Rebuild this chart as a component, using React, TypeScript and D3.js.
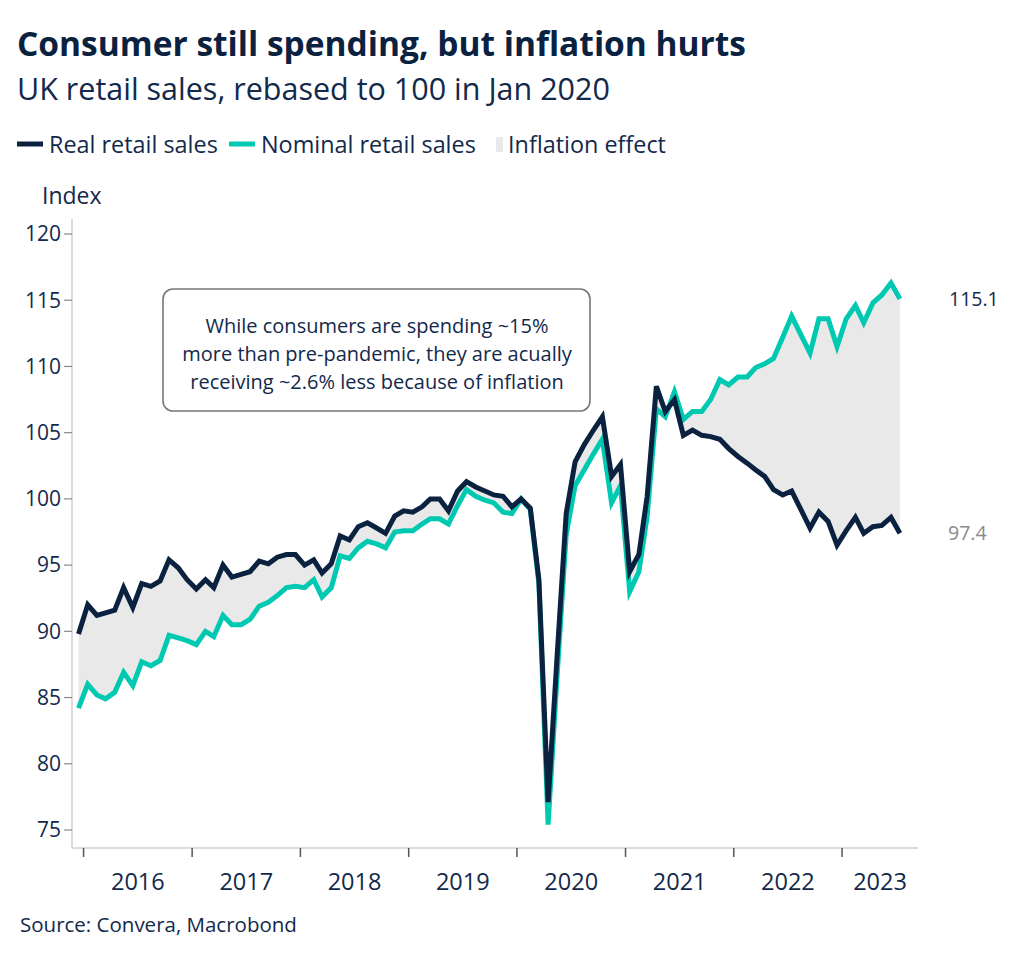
import React from "react";
import * as d3 from "d3";

// Months Dec 2015 .. Jul 2023 (92 points)
const startYear = 2015;
const startMonth = 11; // December (0-based)

const realSales = [
  89.8, 92.0, 91.2, 91.4, 91.6, 93.3, 91.8, 93.6, 93.4, 93.8, 95.4, 94.8, 93.9,
  93.2, 93.9, 93.3, 95.0, 94.1, 94.3, 94.5, 95.3, 95.1, 95.6, 95.8, 95.8, 95.0,
  95.4, 94.4, 95.1, 97.2, 96.9, 97.9, 98.2, 97.8, 97.4, 98.7, 99.1, 99.0, 99.4,
  100.0, 100.0, 99.1, 100.6, 101.3, 100.9, 100.6, 100.3, 100.2, 99.4, 100.0,
  99.3, 93.9, 77.1, 88.0, 98.9, 102.8, 104.1, 105.2, 106.2, 101.7, 102.6, 94.5,
  95.8, 100.2, 108.5, 106.6, 107.5, 104.8, 105.2, 104.8, 104.7, 104.5, 103.8,
  103.2, 102.7, 102.2, 101.7, 100.7, 100.3, 100.6, 99.2, 97.8, 99.0, 98.3, 96.5,
  97.6, 98.6, 97.4, 97.9, 98.0, 98.6, 97.4,
];

const nominalSales = [
  84.2, 86.0, 85.2, 84.9, 85.4, 86.9, 85.9, 87.7, 87.4, 87.8, 89.7, 89.5, 89.3,
  89.0, 90.0, 89.6, 91.2, 90.5, 90.5, 90.9, 91.9, 92.2, 92.7, 93.3, 93.4, 93.3,
  93.9, 92.6, 93.3, 95.7, 95.5, 96.3, 96.8, 96.6, 96.3, 97.5, 97.6, 97.6, 98.1,
  98.5, 98.5, 98.1, 99.5, 100.7, 100.2, 99.9, 99.7, 99.0, 98.9, 100.0, 99.2,
  93.6, 75.4, 86.5, 97.3, 101.0, 102.2, 103.4, 104.5, 99.7, 101.0, 93.0, 94.5,
  98.7, 106.8, 106.2, 108.1, 106.0, 106.6, 106.6, 107.5, 109.0, 108.6, 109.2,
  109.2, 109.9, 110.2, 110.6, 112.2, 113.8, 112.4, 111.0, 113.6, 113.6, 111.5,
  113.6, 114.6, 113.3, 114.8, 115.4, 116.3, 115.1,
];

const yTicks = [75, 80, 85, 90, 95, 100, 105, 110, 115, 120];
const yearLabels = [2016, 2017, 2018, 2019, 2020, 2021, 2022, 2023];

const legendItems = [
  { label: "Real retail sales", kind: "line", color: "#0a2240" },
  { label: "Nominal retail sales", kind: "line", color: "#00c9b1" },
  { label: "Inflation effect", kind: "box", color: "#e9e9e9" },
];

const titleText = "Consumer still spending, but inflation hurts";
const subtitleText = "UK retail sales, rebased to 100 in Jan 2020";
const noteLines = [
  "While consumers are spending ~15%",
  "more than pre-pandemic, they are acually",
  "receiving ~2.6% less because of inflation",
];
const sourceText = "Source: Convera, Macrobond";

const NAVY = "#0a2240";
const TEAL = "#00c9b1";
const TEXT = "#13294b";
const FONT = "'Open Sans', 'Noto Sans', sans-serif";

type Pt = { date: Date; real: number; nominal: number };

const data: Pt[] = realSales.map((r, i) => ({
  date: new Date(startYear, startMonth + i, 15),
  real: r,
  nominal: nominalSales[i],
}));

export default function App() {
  const W = 1024;
  const H = 958;
  const x = d3
    .scaleTime()
    .domain([new Date(2015, 10, 23), new Date(2023, 8, 14)])
    .range([72, 918]);
  const y = d3.scaleLinear().domain([75, 120]).range([830, 234]);
  const axisBottom = 848;
  const axisTop = 219;

  const area = d3
    .area<Pt>()
    .x((d) => x(d.date))
    .y0((d) => y(d.nominal))
    .y1((d) => y(d.real));
  const lineReal = d3
    .line<Pt>()
    .x((d) => x(d.date))
    .y((d) => y(d.real));
  const lineNom = d3
    .line<Pt>()
    .x((d) => x(d.date))
    .y((d) => y(d.nominal));

  const yearTicks = yearLabels.map((yr) => new Date(yr, 0, 1));
  const xEnd = 918;

  const last = data[data.length - 1];

  return (
    <svg
      width={W}
      height={H}
      style={{ display: "block", position: "absolute", left: 0, top: 0 }}
      fontFamily={FONT}
    >
      <rect width={W} height={H} fill="#ffffff" />
      <text x={17} y={56} fontSize={33.5} fontWeight={700} fill={NAVY}>
        {titleText}
      </text>
      <text x={17} y={100} fontSize={30.5} fill={TEXT}>
        {subtitleText}
      </text>

      {/* legend */}
      {(() => {
        const positions = [17, 229, 496];
        return legendItems.map((it, i) => (
          <g key={it.label}>
            {it.kind === "line" ? (
              <line
                x1={positions[i]}
                x2={positions[i] + 26}
                y1={144}
                y2={144}
                stroke={it.color}
                strokeWidth={5}
              />
            ) : (
              <rect x={positions[i]} y={137} width={7} height={15} fill={it.color} />
            )}
            <text
              x={positions[i] + (it.kind === "line" ? 32 : 12)}
              y={153}
              fontSize={23.4}
              fill={TEXT}
            >
              {it.label}
            </text>
          </g>
        ));
      })()}

      <text x={42} y={204} fontSize={23} fill={TEXT}>
        Index
      </text>

      {/* y axis */}
      <line x1={72} x2={72} y1={axisTop} y2={axisBottom} stroke="#d0d0d0" strokeWidth={1.5} />
      {yTicks.map((t) => (
        <g key={t}>
          <line x1={64} x2={72} y1={y(t)} y2={y(t)} stroke="#888" strokeWidth={1.2} />
          <text x={61} y={y(t)} dy="0.35em" textAnchor="end" fontSize={21} fill={TEXT}>
            {t}
          </text>
        </g>
      ))}

      {/* x axis */}
      <line x1={72} x2={xEnd} y1={axisBottom} y2={axisBottom} stroke="#d0d0d0" strokeWidth={1.5} />
      {yearTicks.map((d, i) => {
        const x0 = x(d);
        const next = i < yearTicks.length - 1 ? x(yearTicks[i + 1]) : xEnd;
        return (
          <g key={i}>
            <line x1={x0} x2={x0} y1={axisBottom} y2={axisBottom + 9} stroke="#555" strokeWidth={1.5} />
            <text x={(x0 + next) / 2} y={890} textAnchor="middle" fontSize={23.5} fill={TEXT}>
              {yearLabels[i]}
            </text>
          </g>
        );
      })}

      {/* series */}
      <path d={area(data) || ""} fill="#e9e9e9" />
      <path d={lineNom(data) || ""} fill="none" stroke={TEAL} strokeWidth={5} strokeLinejoin="miter" />
      <path d={lineReal(data) || ""} fill="none" stroke={NAVY} strokeWidth={5} strokeLinejoin="miter" />

      {/* end labels */}
      <text x={949} y={y(last.nominal)} dy="0.35em" fontSize={19.5} fill={TEXT}>
        {last.nominal.toFixed(1)}
      </text>
      <text x={948} y={y(last.real)} dy="0.35em" fontSize={19.5} fill="#8a8a8a">
        {last.real.toFixed(1)}
      </text>

      {/* annotation */}
      <rect x={163} y={289} width={427} height={122} rx={10} fill="#ffffff" stroke="#777" strokeWidth={1.6} />
      {noteLines.map((l, i) => (
        <text key={i} x={377} y={333 + i * 28} textAnchor="middle" fontSize={20} fill={TEXT}>
          {l}
        </text>
      ))}

      <text x={20} y={932} fontSize={20.5} fill={TEXT}>
        {sourceText}
      </text>
    </svg>
  );
}
